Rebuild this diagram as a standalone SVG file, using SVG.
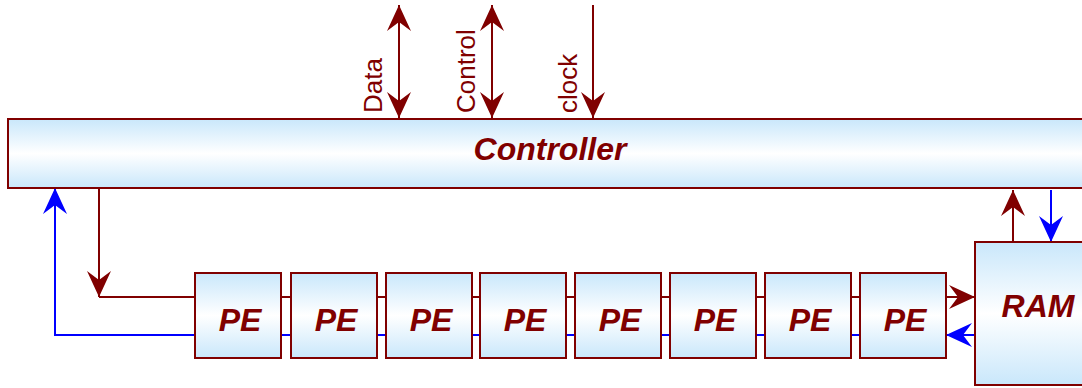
<svg xmlns="http://www.w3.org/2000/svg" width="1082" height="388" viewBox="0 0 1082 388">
  <style>
    .box { fill: url(#shade); stroke: #800000; stroke-width: 2; }
    .title { font-family: "Liberation Sans", Arial, sans-serif; font-weight: bold; font-style: italic; font-size: 32px; fill: #800000; text-anchor: middle; }
    .sig { font-family: "Liberation Sans", Arial, sans-serif; font-size: 26px; fill: #800000; }
    .red { fill: none; stroke: #800000; stroke-width: 2; }
    .blue { fill: none; stroke: #0000ff; stroke-width: 2; }
  </style>
  <defs>
    <linearGradient id="shade" x1="0" y1="0" x2="0" y2="1">
      <stop offset="0" stop-color="#c9e7fb"/>
      <stop offset="0.5" stop-color="#ffffff"/>
      <stop offset="1" stop-color="#c9e7fb"/>
    </linearGradient>
    <marker id="headRed" markerUnits="userSpaceOnUse" markerWidth="40" markerHeight="40" refX="0" refY="0" orient="auto-start-reverse" overflow="visible">
      <path d="M0,0 L-26,-12 L-17,0 L-26,12 Z" fill="#800000"/>
    </marker>
    <marker id="headBlue" markerUnits="userSpaceOnUse" markerWidth="40" markerHeight="40" refX="0" refY="0" orient="auto-start-reverse" overflow="visible">
      <path d="M0,0 L-26,-12 L-17,0 L-26,12 Z" fill="#0000ff"/>
    </marker>
  </defs>

  <rect width="1082" height="388" fill="#ffffff"/>

  <!-- wiring between the blocks -->
  <g id="connectors">
    <!-- external signals into the controller -->
    <line class="red" x1="399" y1="5" x2="399" y2="118" marker-start="url(#headRed)" marker-end="url(#headRed)"/>
    <line class="red" x1="492" y1="5" x2="492" y2="118" marker-start="url(#headRed)" marker-end="url(#headRed)"/>
    <line class="red" x1="593" y1="5" x2="593" y2="118" marker-end="url(#headRed)"/>

    <!-- controller to PE chain -->
    <path class="red" d="M99,189 V297" marker-end="url(#headRed)"/>
    <path class="red" d="M99,297 H975" marker-end="url(#headRed)"/>

    <!-- PE chain back to controller -->
    <path class="blue" d="M975,335 H946" marker-end="url(#headBlue)"/>
    <path class="blue" d="M946,335 H55 V188" marker-end="url(#headBlue)"/>

    <!-- RAM and controller -->
    <path class="red" d="M1013,242 V190" marker-end="url(#headRed)"/>
    <path class="blue" d="M1051,190 V242" marker-end="url(#headBlue)"/>
  </g>

  <g id="labels">
    <text class="sig" transform="translate(382,113) rotate(-90)">Data</text>
    <text class="sig" transform="translate(475,113) rotate(-90)">Control</text>
    <text class="sig" transform="translate(577,113) rotate(-90)">clock</text>
  </g>

  <g id="controller">
    <rect class="box" x="8" y="119" width="1090" height="69"/>
    <text class="title" x="550" y="160">Controller</text>
  </g>

  <g id="ram">
    <rect class="box" x="975" y="242" width="130" height="143"/>
    <text class="title" x="1038" y="317">RAM</text>
  </g>

  <g id="pe1"><rect class="box" x="195" y="273" width="86" height="85"/><text class="title" x="240" y="331">PE</text></g>
  <g id="pe2"><rect class="box" x="291" y="273" width="86" height="85"/><text class="title" x="336" y="331">PE</text></g>
  <g id="pe3"><rect class="box" x="386" y="273" width="86" height="85"/><text class="title" x="431" y="331">PE</text></g>
  <g id="pe4"><rect class="box" x="480" y="273" width="86" height="85"/><text class="title" x="525" y="331">PE</text></g>
  <g id="pe5"><rect class="box" x="575" y="273" width="86" height="85"/><text class="title" x="620" y="331">PE</text></g>
  <g id="pe6"><rect class="box" x="670" y="273" width="86" height="85"/><text class="title" x="715" y="331">PE</text></g>
  <g id="pe7"><rect class="box" x="765" y="273" width="86" height="85"/><text class="title" x="810" y="331">PE</text></g>
  <g id="pe8"><rect class="box" x="860" y="273" width="86" height="85"/><text class="title" x="905" y="331">PE</text></g>
</svg>
